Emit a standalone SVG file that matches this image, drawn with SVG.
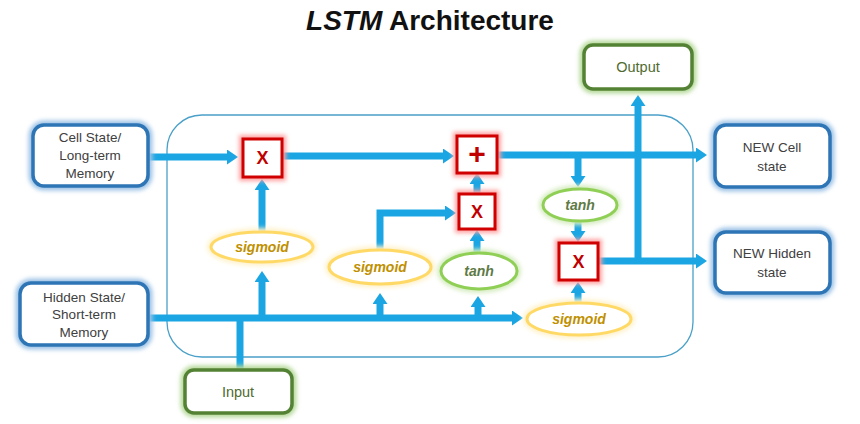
<svg xmlns="http://www.w3.org/2000/svg" width="860" height="424" viewBox="0 0 860 424">
  <defs>
    <filter id="soft" x="-30%" y="-30%" width="160%" height="160%">
      <feGaussianBlur stdDeviation="2"/>
    </filter>
    <marker id="arrow" markerUnits="userSpaceOnUse" markerWidth="11" markerHeight="15" refX="1" refY="7.5" orient="auto">
      <path d="M0,0 L11,7.5 L0,15 z" fill="#1ba6e3"/>
    </marker>
    <style>
      .title { font-family: "Liberation Sans", Arial, sans-serif; font-size: 28px; font-weight: bold; fill: #111; }
      .label { font-family: "Liberation Sans", Arial, sans-serif; font-size: 13.5px; fill: #404040; text-anchor: middle; dominant-baseline: central; }
      .glabel { font-family: "Liberation Sans", Arial, sans-serif; font-size: 14.5px; fill: #4f6b30; text-anchor: middle; dominant-baseline: central; }
      .sig { font-family: "Liberation Sans", Arial, sans-serif; font-size: 14px; font-weight: bold; font-style: italic; fill: #bf9000; text-anchor: middle; dominant-baseline: central; }
      .tanh { font-family: "Liberation Sans", Arial, sans-serif; font-size: 14px; font-weight: bold; font-style: italic; fill: #5e7a46; text-anchor: middle; dominant-baseline: central; }
      .op { font-family: "Liberation Sans", Arial, sans-serif; font-size: 18px; font-weight: bold; fill: #c00000; text-anchor: middle; dominant-baseline: central; }
      .op-plus { font-size: 30px; }
      .blue { fill: #fff; stroke: #2e75b6; stroke-width: 3.5; }
      .blue-glow { fill: none; stroke: #9dc3e6; stroke-width: 9; filter: url(#soft); }
      .green { fill: #fff; stroke: #548235; stroke-width: 3.5; }
      .green-glow { fill: none; stroke: #b5d99a; stroke-width: 9; filter: url(#soft); }
      .red { fill: #fff; stroke: #d00000; stroke-width: 3; }
      .red-glow { fill: none; stroke: #ffa3a3; stroke-width: 8; filter: url(#soft); }
      .sig-shape { fill: #fff; stroke: #ffd966; stroke-width: 3; }
      .sig-glow { fill: none; stroke: #fff2cc; stroke-width: 8; filter: url(#soft); }
      .tanh-shape { fill: #fff; stroke: #8fcf55; stroke-width: 3; }
      .tanh-glow { fill: none; stroke: #d5ecc0; stroke-width: 8; filter: url(#soft); }
      .link { fill: none; stroke: #1ba6e3; stroke-width: 7; }
      .link-arrow { fill: none; stroke: #1ba6e3; stroke-width: 7; marker-end: url(#arrow); }
    </style>
  </defs>

  <rect width="860" height="424" fill="#fff"/>

  <!-- title -->
  <text class="title" x="430" y="30" text-anchor="middle"><tspan font-style="italic">LSTM</tspan> Architecture</text>

  <!-- cell boundary -->
  <rect id="cell" x="167" y="115" width="526" height="242" rx="35" fill="#fff" stroke="#4aa0c8" stroke-width="1.3"/>

  <!-- connectors -->
  <g id="connectors">
    <path class="link-arrow" d="M148,157 H228"/>
    <path class="link-arrow" d="M282,156 H444"/>
    <path class="link-arrow" d="M497,155 H697"/>
    <path class="link-arrow" d="M578,155 V177"/>
    <path class="link-arrow" d="M578,222 V232"/>
    <path class="link-arrow" d="M578,303 V292"/>
    <path class="link-arrow" d="M598,261 H697"/>
    <path class="link-arrow" d="M638,261 V105"/>
    <path class="link-arrow" d="M477,194 V183"/>
    <path class="link-arrow" d="M477,252 V240"/>
    <path class="link-arrow" d="M380,249 V213 H446"/>
    <path class="link-arrow" d="M262,231 V189"/>
    <path class="link-arrow" d="M148,318 H513"/>
    <path class="link-arrow" d="M262,318 V281"/>
    <path class="link-arrow" d="M380,318 V303"/>
    <path class="link-arrow" d="M478,318 V306"/>
    <path class="link" d="M240,370 V318"/>
  </g>

  <!-- inputs -->
  <g id="cell-state-in">
    <rect class="blue-glow" x="33" y="125" width="115" height="61" rx="11"/>
    <rect class="blue" x="33" y="125" width="115" height="61" rx="11"/>
    <text class="label" x="90" y="137">Cell State/</text>
    <text class="label" x="90" y="155">Long-term</text>
    <text class="label" x="90" y="173">Memory</text>
  </g>
  <g id="hidden-state-in">
    <rect class="blue-glow" x="20" y="283" width="128" height="62" rx="11"/>
    <rect class="blue" x="20" y="283" width="128" height="62" rx="11"/>
    <text class="label" x="84" y="297">Hidden State/</text>
    <text class="label" x="84" y="314">Short-term</text>
    <text class="label" x="84" y="332">Memory</text>
  </g>
  <g id="input">
    <rect class="green-glow" x="185" y="370" width="107" height="43" rx="9"/>
    <rect class="green" x="185" y="370" width="107" height="43" rx="9"/>
    <text class="glabel" x="238" y="392">Input</text>
  </g>

  <!-- outputs -->
  <g id="output">
    <rect class="green-glow" x="584" y="45" width="108" height="44" rx="9"/>
    <rect class="green" x="584" y="45" width="108" height="44" rx="9"/>
    <text class="glabel" x="638" y="67">Output</text>
  </g>
  <g id="new-cell-state">
    <rect class="blue-glow" x="715" y="125" width="115" height="62" rx="11"/>
    <rect class="blue" x="715" y="125" width="115" height="62" rx="11"/>
    <text class="label" x="772" y="147">NEW Cell</text>
    <text class="label" x="772" y="166">state</text>
  </g>
  <g id="new-hidden-state">
    <rect class="blue-glow" x="715" y="232" width="115" height="61" rx="11"/>
    <rect class="blue" x="715" y="232" width="115" height="61" rx="11"/>
    <text class="label" x="772" y="253">NEW Hidden</text>
    <text class="label" x="772" y="272">state</text>
  </g>

  <!-- pointwise operations -->
  <g id="forget-mul">
    <rect class="red-glow" x="243" y="139" width="39" height="38"/>
    <rect class="red" x="243" y="139" width="39" height="38"/>
    <text class="op" x="262.5" y="158">X</text>
  </g>
  <g id="cell-add">
    <rect class="red-glow" x="457" y="136" width="40" height="37"/>
    <rect class="red" x="457" y="136" width="40" height="37"/>
    <text class="op op-plus" x="477" y="153">+</text>
  </g>
  <g id="input-mul">
    <rect class="red-glow" x="459" y="194" width="36" height="35"/>
    <rect class="red" x="459" y="194" width="36" height="35"/>
    <text class="op" x="477" y="212">X</text>
  </g>
  <g id="output-mul">
    <rect class="red-glow" x="559" y="243" width="39" height="37"/>
    <rect class="red" x="559" y="243" width="39" height="37"/>
    <text class="op" x="578.5" y="262">X</text>
  </g>

  <!-- activations -->
  <g id="forget-gate">
    <ellipse class="sig-glow" cx="262" cy="247" rx="51" ry="15"/>
    <ellipse class="sig-shape" cx="262" cy="247" rx="51" ry="15"/>
    <text class="sig" x="262" y="247">sigmoid</text>
  </g>
  <g id="input-gate">
    <ellipse class="sig-glow" cx="380" cy="267" rx="51" ry="17"/>
    <ellipse class="sig-shape" cx="380" cy="267" rx="51" ry="17"/>
    <text class="sig" x="380" y="267">sigmoid</text>
  </g>
  <g id="candidate">
    <ellipse class="tanh-glow" cx="479" cy="271" rx="38" ry="18"/>
    <ellipse class="tanh-shape" cx="479" cy="271" rx="38" ry="18"/>
    <text class="tanh" x="479" y="271">tanh</text>
  </g>
  <g id="cell-tanh">
    <ellipse class="tanh-glow" cx="580" cy="205" rx="37" ry="16"/>
    <ellipse class="tanh-shape" cx="580" cy="205" rx="37" ry="16"/>
    <text class="tanh" x="580" y="205">tanh</text>
  </g>
  <g id="output-gate">
    <ellipse class="sig-glow" cx="579" cy="319" rx="52" ry="16"/>
    <ellipse class="sig-shape" cx="579" cy="319" rx="52" ry="16"/>
    <text class="sig" x="579" y="319">sigmoid</text>
  </g>
</svg>
